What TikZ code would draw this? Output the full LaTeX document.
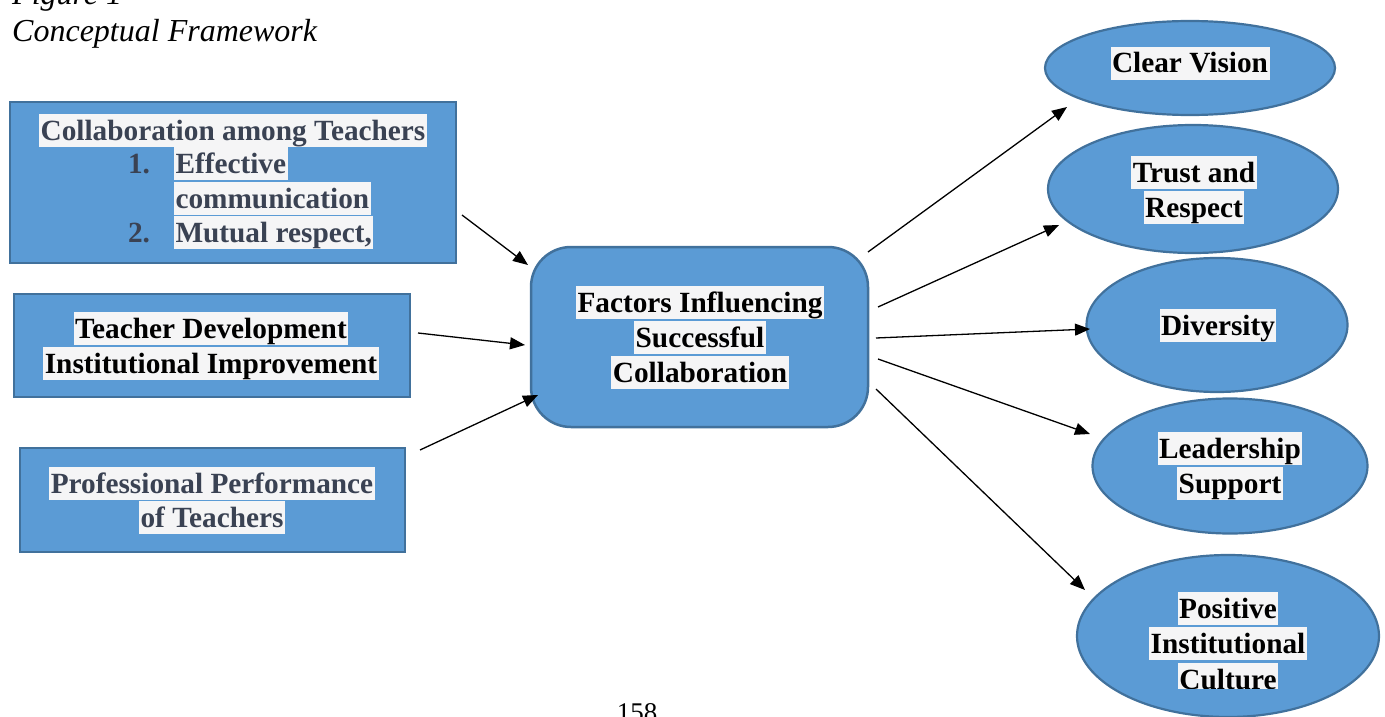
\documentclass[tikz,border=0pt]{standalone}
\usepackage{fontspec}
\setmainfont{Liberation Serif}
\usetikzlibrary{arrows.meta,shapes.geometric}
\definecolor{boxfill}{HTML}{5B9BD5}
\definecolor{boxline}{HTML}{41719C}
\definecolor{hl}{HTML}{F5F5F6}
\definecolor{slate}{HTML}{3A4253}
\newcommand\hl[1]{{\setlength{\fboxsep}{0pt}\colorbox{hl}{\rule[-7pt]{0pt}{33pt}\kern1.5pt#1\kern1.5pt}}}
\tikzset{
  box/.style={draw=boxline, fill=boxfill, line width=2.5pt, inner sep=0pt, outer sep=0pt},
  oval/.style={ellipse, draw=boxline, fill=boxfill, line width=2.2pt, inner sep=0pt, outer sep=0pt},
  txt/.style={inner sep=0pt, outer sep=0pt, font=\fontsize{29.3}{34}\selectfont\bfseries},
  gtxt/.style={txt, text=slate},
  arr/.style={line width=1.3pt, -{Triangle[length=15pt,width=12pt]}}
}
\begin{document}
\begin{tikzpicture}[x=1pt,y=-1pt]
\useasboundingbox (0,0) rectangle (1385,717);
\clip (0,0) rectangle (1385,717);
% title
\node[inner sep=0pt, anchor=base west, font=\fontsize{32}{36}\selectfont\itshape] (fig) at (12,5) {Figure 1};
\node[inner sep=0pt, anchor=base west, font=\fontsize{32}{36}\selectfont\itshape] (title) at (12,42) {Conceptual Framework};
% left boxes
\node[box, minimum width=446pt, minimum height=161pt] (b1) at (233,182.5) {};
\node[box, minimum width=396pt, minimum height=103pt] (b2) at (212,345.5) {};
\node[box, minimum width=385pt, minimum height=104pt] (b3) at (212.5,500) {};
% center
\node[box, rounded corners=40pt, minimum width=337pt, minimum height=180pt] (c) at (699.5,337) {};
% ellipses
\node[oval, minimum width=290pt, minimum height=94pt] (e1) at (1190,68) {};
\node[oval, minimum width=290pt, minimum height=128pt] (e2) at (1193,189) {};
\node[oval, minimum width=261pt, minimum height=134pt] (e3) at (1217,325) {};
\node[oval, minimum width=275pt, minimum height=135pt] (e4) at (1230,466) {};
\node[oval, minimum width=302pt, minimum height=162pt] (e5) at (1228,636) {};
% box 1 text
\node[gtxt, anchor=base] (t11) at (233,140) {\hl{Collaboration among Teachers}};
\node[gtxt, anchor=base east] (n1) at (150,173) {1.};
\node[gtxt, anchor=base west] (t12) at (174,173) {\hl{Effective}};
\node[gtxt, anchor=base west] (t13) at (174,208) {\hl{communication}};
\node[gtxt, anchor=base east] (n2) at (150,242) {2.};
\node[gtxt, anchor=base west] (t14) at (174,242) {\hl{Mutual respect,}};
% box 2 text
\node[txt, anchor=base] (t21) at (211,338) {\hl{Teacher Development}};
\node[txt, anchor=base] (t22) at (211,373) {\hl{Institutional Improvement}};
% box 3 text
\node[gtxt, anchor=base] (t31) at (212,493) {\hl{Professional Performance}};
\node[gtxt, anchor=base] (t32) at (212,527) {\hl{of Teachers}};
% center text
\node[txt, anchor=base] (c1) at (700,312) {\hl{Factors Influencing}};
\node[txt, anchor=base] (c2) at (700,347) {\hl{Successful}};
\node[txt, anchor=base] (c3) at (700,382) {\hl{Collaboration}};
% ellipse texts
\node[txt, anchor=base] (x1) at (1190,73) {\hl{Clear Vision}};
\node[txt, anchor=base] (x21) at (1194,182) {\hl{Trust and}};
\node[txt, anchor=base] (x22) at (1194,217) {\hl{Respect}};
\node[txt, anchor=base] (x3) at (1218,335) {\hl{Diversity}};
\node[txt, anchor=base] (x41) at (1230,458) {\hl{Leadership}};
\node[txt, anchor=base] (x42) at (1230,493) {\hl{Support}};
\node[txt, anchor=base] (x51) at (1228,618) {\hl{Positive}};
\node[txt, anchor=base] (x52) at (1228,653) {\hl{Institutional}};
\begin{scope}
\clip (1000,600) rectangle (1385,688);
\node[txt, anchor=base] (x53) at (1228,689) {\hl{Culture}};
\end{scope}
% page number
\node[inner sep=0pt, anchor=base, font=\fontsize{27}{30}\selectfont] (pg) at (637,721) {158};
% arrow endpoints
\coordinate (a1s) at (462,215); \coordinate (a1e) at (528,265);
\coordinate (a2s) at (418,333); \coordinate (a2e) at (525,345);
\coordinate (a3s) at (420,450); \coordinate (a3e) at (538,395);
\coordinate (r1s) at (868,252); \coordinate (r1e) at (1067,107);
\coordinate (r2s) at (878,307); \coordinate (r2e) at (1059,225);
\coordinate (r3s) at (876,338); \coordinate (r3e) at (1090,329);
\coordinate (r4s) at (878,359); \coordinate (r4e) at (1090,434);
\coordinate (r5s) at (876,389); \coordinate (r5e) at (1085,590);
\draw[arr] (a1s) -- (a1e);
\draw[arr] (a2s) -- (a2e);
\draw[arr] (a3s) -- (a3e);
\draw[arr] (r1s) -- (r1e);
\draw[arr] (r2s) -- (r2e);
\draw[arr] (r3s) -- (r3e);
\draw[arr] (r4s) -- (r4e);
\draw[arr] (r5s) -- (r5e);
\end{tikzpicture}
\end{document}
